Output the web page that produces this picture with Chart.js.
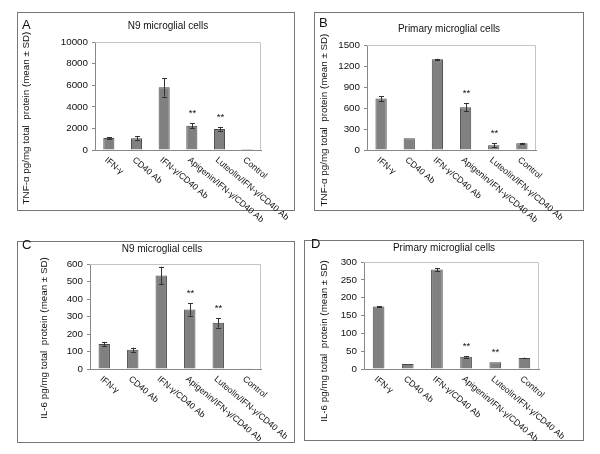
<!DOCTYPE html>
<html>
<head>
<meta charset="UTF-8">
<title>Cytokine panels</title>
<script src="https://cdn.jsdelivr.net/npm/chart.js"></script>
<style>
  body { margin: 0; background: #fff; width: 600px; height: 454px; position: relative; overflow: hidden;
         font-family: "Liberation Sans", Arial, Helvetica, sans-serif; color: #111; }
  .box { position: absolute; border: 1px solid #777; box-sizing: border-box; }
  canvas { position: absolute; }
  .letter { position: absolute; font-size: 13px; line-height: 13px; }
  .ytitle { position: absolute; font-size: 9.8px; white-space: pre; transform: translate(-50%, -50%) rotate(-90deg); }
</style>
</head>
<body>

<script>
// categories (x axis)
var categories = ['IFN-γ', 'CD40 Ab', 'IFN-γ/CD40 Ab', 'Apigenin/IFN-γ/CD40 Ab', 'Luteolin/IFN-γ/CD40 Ab', 'Control'];
var stars = ['', '', '', '**', '**', ''];

// A - TNF-α, N9 cells
var tnfN9 = [1100, 1080, 5800, 2250, 1950, 10];
var tnfN9Sd = [100, 180, 850, 250, 180, 0];
var tnfN9Ticks = [0, 2000, 4000, 6000, 8000, 10000];

// B - TNF-α, primary cells
var tnfPrim = [735, 168, 1295, 612, 68, 98];
var tnfPrimSd = [35, 0, 8, 60, 25, 6];
var tnfPrimTicks = [0, 300, 600, 900, 1200, 1500];

// C - IL-6, N9 cells
var il6N9 = [143, 110, 535, 340, 264, 1];
var il6N9Sd = [12, 12, 50, 35, 28, 0];
var il6N9Ticks = [0, 100, 200, 300, 400, 500, 600];

// D - IL-6, primary cells
var il6Prim = [175, 14, 279, 34, 19, 31];
var il6PrimSd = [1, 0, 4, 2, 0, 1];
var il6PrimTicks = [0, 50, 100, 150, 200, 250, 300];

var FONT = '"Liberation Sans", Arial, Helvetica, sans-serif';
var YW = 40;    // fixed width of the y axis box
var EXTRA = 20; // canvas reaches a bit below the frame so long labels are not cut

// layout: panel box and plot area in page pixels
var panels = [
  { letter: 'A', title: 'N9 microglial cells', yTitle: 'TNF-α pg/mg total  protein (mean ± SD)',
    values: tnfN9, sd: tnfN9Sd, ticks: tnfN9Ticks,
    box: [17, 12, 295, 211], area: [95, 42, 261, 150], titleXY: [168, 26], yTitleX: 25, yTitleY: 118, letterXY: [22, 18] },
  { letter: 'B', title: 'Primary microglial cells', yTitle: 'TNF-α pg/mg total  protein (mean ± SD)',
    values: tnfPrim, sd: tnfPrimSd, ticks: tnfPrimTicks,
    box: [314, 12, 584, 211], area: [367, 45, 536, 150], titleXY: [449, 29], yTitleX: 323, yTitleY: 120, letterXY: [319, 16] },
  { letter: 'C', title: 'N9 microglial cells', yTitle: 'IL-6 pg/mg total  protein (mean ± SD)',
    values: il6N9, sd: il6N9Sd, ticks: il6N9Ticks,
    box: [17, 241, 295, 443], area: [90, 264, 261, 369], titleXY: [162, 249], yTitleX: 43, yTitleY: 338, letterXY: [22, 238] },
  { letter: 'D', title: 'Primary microglial cells', yTitle: 'IL-6 pg/mg total  protein (mean ± SD)',
    values: il6Prim, sd: il6PrimSd, ticks: il6PrimTicks,
    box: [304, 240, 584, 441], area: [364, 262, 539, 369], titleXY: [444, 248], yTitleX: 323, yTitleY: 341, letterXY: [311, 237] }
];

// error bars, stars, plot frame, rotated category labels and title
var extras = {
  id: 'extras',
  afterDatasetsDraw: function(chart) {
    var p = chart.config.options.plugins.extras;
    var ctx = chart.ctx, x = chart.scales.x, y = chart.scales.y, a = chart.chartArea;
    ctx.save();
    // frame top/right
    ctx.strokeStyle = '#c4c4c4';
    ctx.lineWidth = 1;
    ctx.beginPath();
    ctx.moveTo(a.left, a.top + 0.5);
    ctx.lineTo(a.right - 0.5, a.top + 0.5);
    ctx.lineTo(a.right - 0.5, a.bottom);
    ctx.stroke();
    // error bars
    ctx.strokeStyle = '#333';
    p.values.forEach(function(v, i) {
      var cx = Math.round(x.getPixelForValue(i)) + 0.5;
      var e = p.sd[i];
      if (e > 0) {
        var y1 = y.getPixelForValue(v + e), y2 = y.getPixelForValue(v - e);
        ctx.beginPath();
        ctx.moveTo(cx, y1); ctx.lineTo(cx, y2);
        ctx.moveTo(cx - 2.5, Math.round(y1) + 0.5); ctx.lineTo(cx + 2.5, Math.round(y1) + 0.5);
        ctx.moveTo(cx - 2.5, Math.round(y2) + 0.5); ctx.lineTo(cx + 2.5, Math.round(y2) + 0.5);
        ctx.stroke();
      }
      if (stars[i]) {
        ctx.fillStyle = '#111';
        ctx.font = '9.5px ' + FONT;
        ctx.textAlign = 'center';
        ctx.textBaseline = 'bottom';
        ctx.fillText(stars[i], cx, y.getPixelForValue(v + e) - 5);
      }
    });
    // category labels, rotated clockwise
    ctx.fillStyle = '#111';
    ctx.font = '8.8px ' + FONT;
    ctx.textAlign = 'left';
    ctx.textBaseline = 'middle';
    categories.forEach(function(c, i) {
      ctx.save();
      ctx.translate(x.getPixelForValue(i) - 3, a.bottom + 9);
      ctx.rotate(40 * Math.PI / 180);
      ctx.fillText(c, 0, 0);
      ctx.restore();
    });
    // title
    ctx.font = '10px ' + FONT;
    ctx.textAlign = 'center';
    ctx.fillText(p.title, p.titleX, p.titleY);
    ctx.restore();
  }
};

panels.forEach(function(p) {
  var w = p.box[2] - p.box[0], h = p.box[3] - p.box[1];
  var div = document.createElement('div');
  div.className = 'box';
  div.style.left = p.box[0] + 'px'; div.style.top = p.box[1] + 'px';
  div.style.width = w + 'px'; div.style.height = h + 'px';
  document.body.appendChild(div);

  var cv = document.createElement('canvas');
  cv.width = w; cv.height = h + EXTRA;
  cv.style.left = p.box[0] + 'px'; cv.style.top = p.box[1] + 'px';
  document.body.appendChild(cv);

  var lt = document.createElement('div');
  lt.className = 'letter';
  lt.textContent = p.letter;
  lt.style.left = p.letterXY[0] + 'px'; lt.style.top = p.letterXY[1] + 'px';
  document.body.appendChild(lt);

  var yt = document.createElement('div');
  yt.className = 'ytitle';
  yt.textContent = p.yTitle;
  yt.style.left = p.yTitleX + 'px'; yt.style.top = p.yTitleY + 'px';
  document.body.appendChild(yt);

  new Chart(cv.getContext('2d'), {
    type: 'bar',
    data: {
      labels: categories,
      datasets: [{
        data: p.values,
        backgroundColor: '#808080',
        borderColor: '#4a4a4a',
        borderWidth: 1,
        categoryPercentage: 1,
        barPercentage: 0.4
      }]
    },
    options: {
      responsive: false,
      animation: false,
      layout: {
        padding: {
          left: p.area[0] - p.box[0] - YW,
          top: p.area[1] - p.box[1],
          right: p.box[2] - p.area[2],
          bottom: p.box[3] - p.area[3] + EXTRA
        }
      },
      plugins: {
        legend: { display: false },
        tooltip: { enabled: false },
        extras: { values: p.values, sd: p.sd, title: p.title,
                  titleX: p.titleXY[0] - p.box[0], titleY: p.titleXY[1] - p.box[1] }
      },
      scales: {
        x: {
          ticks: { display: false },
          grid: { display: false, drawTicks: false },
          border: { display: true, color: '#888' },
          afterFit: function(s) { s.height = 0; }
        },
        y: {
          min: p.ticks[0],
          max: p.ticks[p.ticks.length - 1],
          afterBuildTicks: function(s) { s.ticks = p.ticks.map(function(v) { return { value: v }; }); },
          ticks: { font: { family: FONT, size: 9.8 }, color: '#111', padding: 4,
                   callback: function(v) { return String(v); } },
          grid: { drawOnChartArea: false, drawTicks: true, tickLength: 3, color: '#888' },
          border: { display: true, color: '#888' },
          afterFit: function(s) { s.width = YW; }
        }
      }
    },
    plugins: [extras]
  });
});
</script>

</body>
</html>
